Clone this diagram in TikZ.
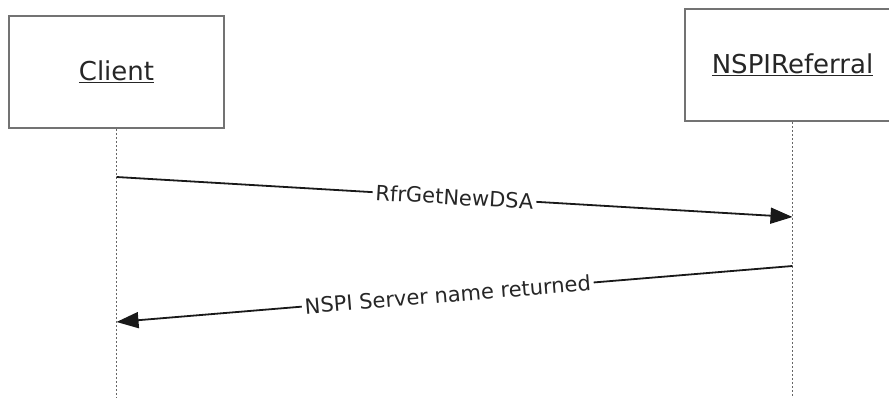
\documentclass[tikz,border=0pt]{standalone}
\usepackage{fontspec}
\setmainfont{DejaVu Sans}
\usepackage{tikz}
\usetikzlibrary{positioning}
\usetikzlibrary{arrows.meta}

\begin{document}
\begin{tikzpicture}[x=1pt, y=1pt,
  actor/.style={draw=black!55, line width=2pt, minimum width=215pt, minimum height=112pt, inner sep=0pt, text=black!85, font=\fontsize{26}{30}\selectfont},
  lifeline/.style={draw=black!60, line width=1.6pt, dash pattern=on 2pt off 2pt},
  msg/.style={draw=black!90, line width=1.8pt, -{Triangle[length=22pt, width=16pt]}},
  msglabel/.style={fill=white, sloped, inner sep=3pt, text=black!85, font=\fontsize{21}{25}\selectfont}]
\useasboundingbox (0,0) rectangle (889,398);

% Define nodes
\node[actor] (client) at (116.5,326) {\underline{Client}};
\node[actor, right=459pt of client, yshift=7pt] (referral) {\underline{NSPIReferral}};

% Lifelines
\coordinate (clientend) at (client.south |- 0,0);
\coordinate (referralend) at (referral.south |- 0,0);
\draw[lifeline] (client) -- (clientend);
\draw[lifeline] (referral) -- (referralend);

% Messages
\coordinate (m1s) at (client.south |- 0,221);
\coordinate (m1e) at (referral.south |- 0,181);
\coordinate (m2s) at (referral.south |- 0,132);
\coordinate (m2e) at (client.south |- 0,76);
\draw[msg] (m1s) -- node[msglabel, pos=0.5] {RfrGetNewDSA} (m1e);
\draw[msg] (m2s) -- node[msglabel, pos=0.51] {NSPI Server name returned} (m2e);
\end{tikzpicture}
\end{document}
